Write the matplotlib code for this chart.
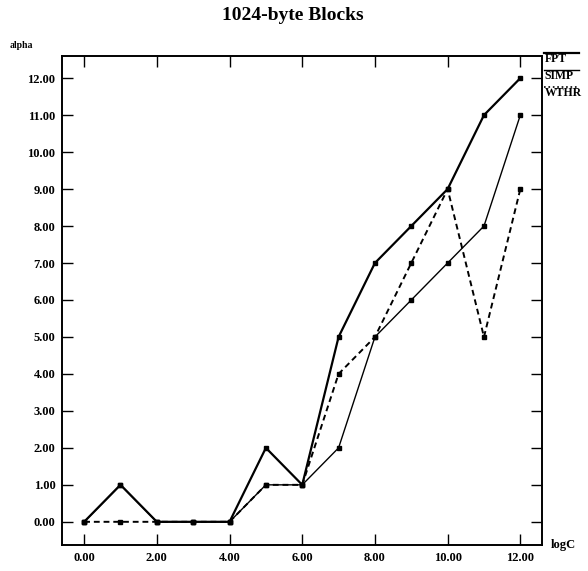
"""Recreate the 1024-byte Blocks alpha vs logC chart."""
import matplotlib
matplotlib.use("Agg")
import matplotlib.pyplot as plt

plt.rcParams["font.family"] = ["Liberation Serif", "DejaVu Serif"]

log_c = [0, 1, 2, 3, 4, 5, 6, 7, 8, 9, 10, 11, 12]
fpt = [0, 1, 0, 0, 0, 2, 1, 5, 7, 8, 9, 11, 12]
simp = [0, 1, 0, 0, 0, 1, 1, 2, 5, 6, 7, 8, 11]
wthr = [0, 0, 0, 0, 0, 1, 1, 4, 5, 7, 9, 5, 9]
x_ticks = [0, 2, 4, 6, 8, 10, 12]
y_ticks = list(range(0, 13))

fig = plt.figure(figsize=(5.88, 5.71), dpi=100)
ax = fig.add_axes([0.106, 0.046, 0.816, 0.856])

ax.plot(log_c, wthr, color="black", lw=1.4, ls=(0, (3, 2)),
        marker="s", ms=2.2, label="WTHR")
ax.plot(log_c, simp, color="black", lw=1.0, marker="s", ms=2.2, label="SIMP")
ax.plot(log_c, fpt, color="black", lw=1.6, marker="s", ms=2.2, label="FPT")

ax.set_xlim(-0.6, 12.6)
ax.set_ylim(-0.62, 12.6)
ax.set_xticks(x_ticks)
ax.set_xticklabels([f"{v:.2f}" for v in x_ticks])
ax.set_yticks(y_ticks)
ax.set_yticklabels([f"{v:.2f}" for v in y_ticks])
ax.tick_params(direction="in", length=8, width=1.0, labelsize=9,
               top=True, right=True, pad=5)
for lbl in ax.get_xticklabels() + ax.get_yticklabels():
    lbl.set_fontweight("bold")
for s in ax.spines.values():
    s.set_linewidth(1.4)

fig.suptitle("1024-byte Blocks", x=0.498, y=0.988, fontsize=14, fontweight="bold")
fig.text(0.017, 0.92, "alpha", fontsize=7, fontweight="bold", va="center")
fig.text(0.937, 0.046, "logC", fontsize=9, fontweight="bold", va="center")

# legend drawn by hand to the right of the box
leg = [("FPT", 1.6, "-"), ("SIMP", 1.0, "-"), ("WTHR", 1.2, ":")]
for i, (name, lw, ls) in enumerate(leg):
    yl = 0.907 - i * 0.030
    fig.add_artist(plt.Line2D([0.926, 0.985], [yl, yl], color="black", lw=lw, ls=ls))
    fig.text(0.926, yl - 0.010, name, fontsize=8.5, fontweight="bold", va="center")

fig.savefig("out.png", dpi=100)
